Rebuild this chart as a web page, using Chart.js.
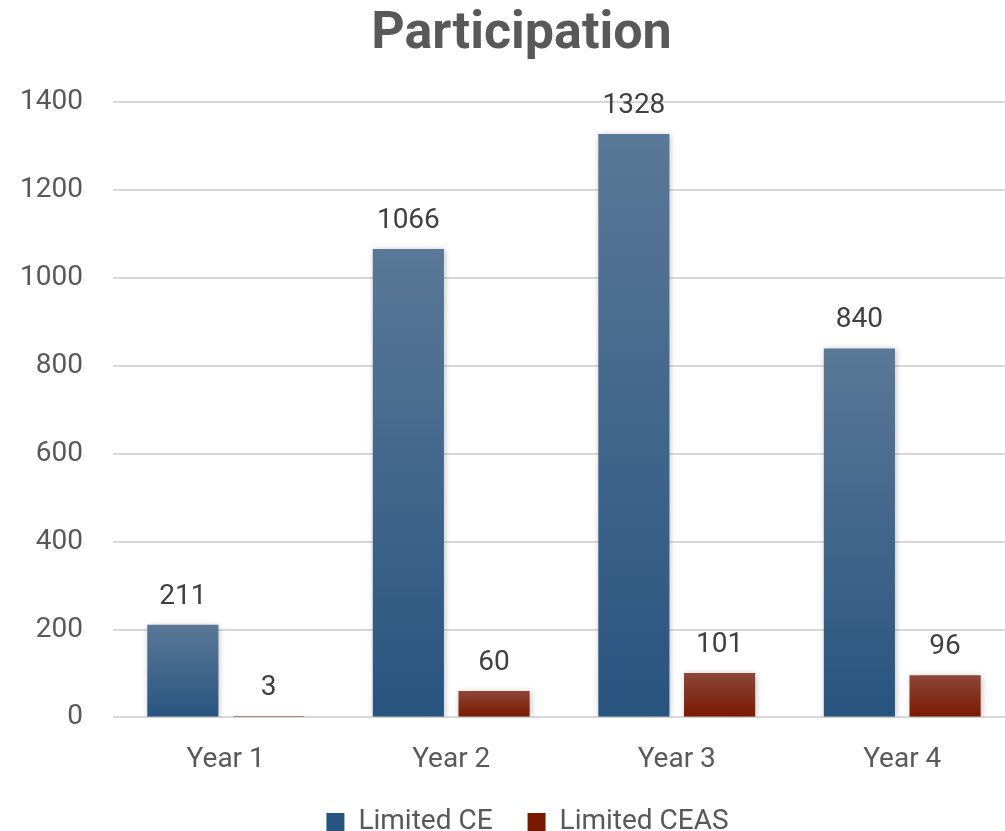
<!DOCTYPE html>
<html>
<head>
<meta charset="utf-8">
<script src="https://cdn.jsdelivr.net/npm/chart.js@4"></script>
<style>
  html, body { margin: 0; padding: 0; background: #fff; overflow: hidden; }
  /* the plot runs a little past the right edge of the picture, as in the original */
  #wrap { width: 1015px; height: 831px; }
</style>
</head>
<body>
<div id="wrap"><canvas id="participationChart"></canvas></div>
<script>
const categories = ['Year 1', 'Year 2', 'Year 3', 'Year 4'];
const limitedCE = [211, 1066, 1328, 840];
const limitedCEAS = [3, 60, 101, 96];
const yTicks = [0, 200, 400, 600, 800, 1000, 1200, 1400];

const FONT = 'Roboto, "Open Sans", sans-serif';

// vertical gradient per bar, light at the top
function barGradient(top, bottom) {
    return function (context) {
        const chart = context.chart;
        if (context.type !== 'data' || !chart.chartArea) return bottom;
        const y = chart.scales.y;
        const yTop = y.getPixelForValue(context.parsed.y);
        const yBase = y.getPixelForValue(0);
        if (!isFinite(yTop) || Math.abs(yBase - yTop) < 1) return bottom;
        const g = chart.ctx.createLinearGradient(0, yTop, 0, yBase);
        g.addColorStop(0, top);
        g.addColorStop(1, bottom);
        return g;
    };
}

// soft shadow + value labels above each bar
const barExtras = {
    id: 'barExtras',
    afterLayout(chart) {
        // the original centres title and legend a bit right of the middle
        chart.titleBlock.left += 19;
        chart.titleBlock.right += 19;
        chart.legend.left += 25;
        chart.legend.right += 25;
    },
    beforeDatasetsDraw(chart) {
        const ctx = chart.ctx;
        ctx.save();
        ctx.shadowColor = 'rgba(0,0,0,0.25)';
        ctx.shadowBlur = 6;
        ctx.shadowOffsetX = 1;
        ctx.shadowOffsetY = 1;
    },
    afterDatasetsDraw(chart) {
        const ctx = chart.ctx;
        ctx.restore();
        ctx.save();
        ctx.font = '28px ' + FONT;
        ctx.fillStyle = '#404040';
        ctx.textAlign = 'center';
        ctx.textBaseline = 'alphabetic';
        chart.data.datasets.forEach((ds, i) => {
            chart.getDatasetMeta(i).data.forEach((bar, j) => {
                ctx.fillText(ds.data[j], bar.x, bar.y - 21);
            });
        });
        ctx.restore();
    }
};

new Chart(document.getElementById('participationChart'), {
    type: 'bar',
    data: {
        labels: categories,
        datasets: [{
            label: 'Limited CE',
            data: limitedCE,
            backgroundColor: barGradient('#5a7897', '#285480')
        }, {
            label: 'Limited CEAS',
            data: limitedCEAS,
            backgroundColor: barGradient('#8c4638', '#7a1800')
        }]
    },
    options: {
        responsive: true,
        maintainAspectRatio: false,
        animation: false,
        categoryPercentage: 0.76,
        barPercentage: 0.83,
        layout: { padding: { left: -10, right: 0, top: 4, bottom: -15 } },
        scales: {
            x: {
                grid: { display: false },
                border: { display: false },
                ticks: { font: { size: 28, family: FONT }, color: '#595959', padding: 18 },
                afterFit(scale) { scale.height -= 22; }
            },
            y: {
                min: 0,
                max: 1400,
                afterBuildTicks(axis) { axis.ticks = yTicks.map(v => ({ value: v })); },
                border: { display: false },
                grid: { color: '#d9d9d9', lineWidth: 2, drawTicks: false },
                ticks: {
                    font: { size: 28, family: FONT },
                    color: '#595959',
                    padding: 30,
                    callback: v => String(v)
                }
            }
        },
        plugins: {
            title: {
                display: true,
                text: 'Participation',
                color: '#595959',
                font: { size: 52, weight: 'bold', family: FONT },
                padding: { top: 0, bottom: 36 }
            },
            legend: {
                position: 'bottom',
                labels: {
                    font: { size: 28, family: FONT },
                    color: '#595959',
                    boxWidth: 18,
                    boxHeight: 18,
                    padding: 35
                }
            },
            tooltip: { enabled: false }
        }
    },
    plugins: [barExtras]
});
</script>
</body>
</html>
